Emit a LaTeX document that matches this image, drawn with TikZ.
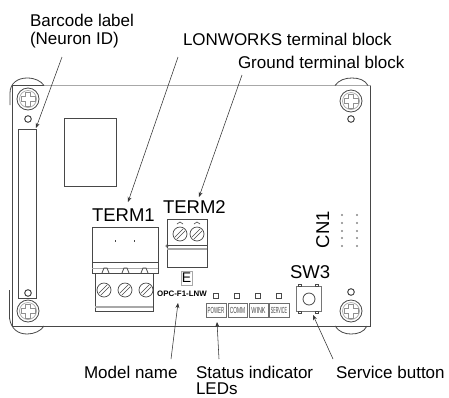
\documentclass[tikz,border=0pt]{standalone}
\usepackage{fontspec}
\setmainfont{Liberation Sans}
\usetikzlibrary{arrows.meta}
\definecolor{ln}{HTML}{484848}
\definecolor{lg}{HTML}{A8A8A8}
\tikzset{
  x=1pt,y=-1pt,
  part/.style={draw=ln,line width=.8pt},
  thin part/.style={draw=lg,line width=.7pt},
  lbl/.style={anchor=base west,inner sep=0pt,outer sep=0pt,font=\fontsize{17}{19}\selectfont},
  tag/.style={anchor=base west,inner sep=0pt,outer sep=0pt,font=\fontsize{18.5}{20}\selectfont},
  leader/.style={draw=black!80,line width=.55pt,-{Stealth[length=5pt,width=4pt]},shorten >=0pt},
  ledtext/.style={transform shape,inner sep=0pt,text=ln,font=\fontsize{8.8}{9}\selectfont},
  ledbox/.style={part,draw=ln!80,line width=.6pt},
  screw/.pic={
    \draw[draw=ln,line width=.8pt] (0,0) circle[radius=11pt];
    \draw[thin part] (0,0) circle[radius=8.5pt];
    \draw[draw=ln!60,line width=.45pt] (-2.5,-7)--(2.5,-7)--(2.5,-2.5)--(7,-2.5)--(7,2.5)--(2.5,2.5)--(2.5,7)--(-2.5,7)--(-2.5,2.5)--(-7,2.5)--(-7,-2.5)--(-2.5,-2.5)--cycle;
  },
  tscrew/.pic={
    \draw[draw=ln,line width=.7pt] (0,0) circle[radius=7pt];
    \draw[draw=ln,line width=.5pt] (-5.2,3.2)--(3.2,-5.2) (-3.2,5.2)--(5.2,-3.2);
  }
}
\begin{document}
\begin{tikzpicture}
\useasboundingbox (0,0) rectangle (449,397);
\fill[white] (0,0) rectangle (449,397);
% case
\draw[draw=lg,line width=1.2pt] (44,85.5)--(370.5,85.5);
\draw[part] (370.5,85.5)--(370.5,326)--(12.5,326)--(12.5,85.5)--(44,85.5);
% corner tabs
\draw[part] (10,105) -- (10,93) .. controls (10,83) and (18,78) .. (27,78) .. controls (35,78) and (41,81) .. (44,85.5);
\draw[part] (335,85.5) .. controls (339,80) and (345,78) .. (352,78) .. controls (359,78) and (365,80) .. (368,85.5);
\draw[part] (9.5,290) -- (9.5,318) .. controls (11,329) and (18,334) .. (27,334) .. controls (34,334) and (41,331) .. (44,326);
\draw[part] (335,326) .. controls (339,332) and (345,334) .. (351,334) .. controls (358,334) and (364,332) .. (367,326);
% screws
\pic at (28,99) {screw};
\pic at (351,101) {screw};
\pic at (28,311) {screw};
\pic at (351,311) {screw};
\foreach \p in {(28,119),(351,119),(28,293),(351,292)} \draw[part,line width=1pt] \p circle[radius=3.3pt];
% barcode and window
\node[part,minimum width=18.5pt,minimum height=169pt,inner sep=0pt] (barcode) at (27.25,213.5) {};
\node[part,minimum width=52pt,minimum height=68pt,inner sep=0pt] (window) at (90,152) {};
% TERM1
\draw[part] (92,227) rectangle (158,273);
\draw[part] (92,262)--(158,262);
\draw[thin part] (92,268)--(158,268);
\draw[part,line width=1pt] (115,240)--(115,242) (134,240)--(134,242);
\foreach \a in {102,122,141} \draw[part] (\a,273)--(\a+2,268)--(\a+5,268)--(\a+7,273);
\draw[part] (95,273) rectangle (153,311);
\draw[thin part,line width=1.2pt] (95,307)--(153,307);
\pic at (104,290) {tscrew};
\pic at (125,290) {tscrew};
\pic at (146,290) {tscrew};
% TERM2
\draw[part] (167,219) rectangle (207,267);
\draw[part] (167,245)--(207,245);
\draw[thin part,line width=1.2pt] (167,249)--(207,249);
\draw[part,line width=.6pt] (177,224) -- (180,222) -- (183,224) (194,224) -- (197,222) -- (200,224);
\pic at (180,234) {tscrew};
\pic at (197,234) {tscrew};
\draw[part,line width=.6pt] (167,246) circle[radius=1.2pt];
% E
\node[part,draw=lg,minimum width=11pt,minimum height=14pt,inner sep=0pt,font=\fontsize{14}{14}\selectfont] (ebox) at (186.5,278) {E};
\node[anchor=base west,inner sep=0pt,font=\bfseries\fontsize{7.9}{9}\selectfont] (model) at (157,296) {OPC-F1-LNW};
% LEDs
\foreach \a in {216,237,258,279} \draw[part,line width=.7pt] (\a-2.5,293.5) rectangle (\a+2.5,298.5);
\node[ledbox,minimum width=20pt,minimum height=14pt,inner sep=0pt] (lpower) at (216,310) {};
\node[ledbox,minimum width=19pt,minimum height=14pt,inner sep=0pt] (lcomm) at (237.5,310) {};
\node[ledbox,minimum width=19pt,minimum height=14pt,inner sep=0pt] (lwink) at (258.5,310) {};
\node[ledbox,minimum width=20pt,minimum height=14pt,inner sep=0pt] (lservice) at (279,310) {};
\node[ledtext,xscale=.5] at (216,310) {POWER};
\node[ledtext,xscale=.55] at (237.5,310) {COMM};
\node[ledtext,xscale=.62] at (258.5,310) {WINK};
\node[ledtext,xscale=.42] at (279,310) {SERVICE};
% SW3
\draw[part,draw=ln!75] (296,286) rectangle (321,311);
\draw[part] (309,299) circle[radius=6pt];
\foreach \a in {300,317} {\draw[part,line width=.6pt] (\a-1.5,284) rectangle (\a+1.5,286); \draw[part,line width=.6pt] (\a-1.5,311) rectangle (\a+1.5,313);}
% CN1 pins
\foreach \a in {342,357} \foreach \b in {215,223,231,238,246} \fill[lg!80!black] (\a,\b) circle[radius=1.2pt];
% block tags
\node[tag] (term1) at (92,221) {TERM1};
\node[tag] (term2) at (163,213) {TERM2};
\node[tag] (sw3) at (290,278) {SW3};
\node[tag,rotate=90,anchor=base west] (cn1) at (329,248) {CN1};
% labels
\node[lbl] (lab1) at (30,26) {Barcode label};
\node[lbl] (lab1b) at (30,44) {(Neuron ID)};
\node[lbl] (lab2) at (183,45.5) {LONWORKS terminal block};
\node[lbl] (lab3) at (238,68) {Ground terminal block};
\node[lbl] (lab4) at (84,378) {Model name};
\node[lbl] (lab5) at (196,378) {Status indicator};
\node[lbl] (lab5b) at (196,394) {LEDs};
\node[lbl] (lab6) at (336,378) {Service button};
% leader ends
\coordinate (a1) at (62,57);   \coordinate (t1) at (36,128);
\coordinate (a2) at (178,57);  \coordinate (t2) at (128,202);
\coordinate (a3) at (242,75);  \coordinate (t3) at (199,197);
\coordinate (a4) at (171,359); \coordinate (t4) at (178,303);
\coordinate (a5) at (219,359); \coordinate (t5) at (217,322);
\coordinate (a6) at (333,359); \coordinate (t6) at (313,315);
\foreach \s/\e in {a1/t1,a2/t2,a3/t3,a4/t4,a5/t5,a6/t6} \draw[leader] (\s) -- (\e);
\end{tikzpicture}
\end{document}
